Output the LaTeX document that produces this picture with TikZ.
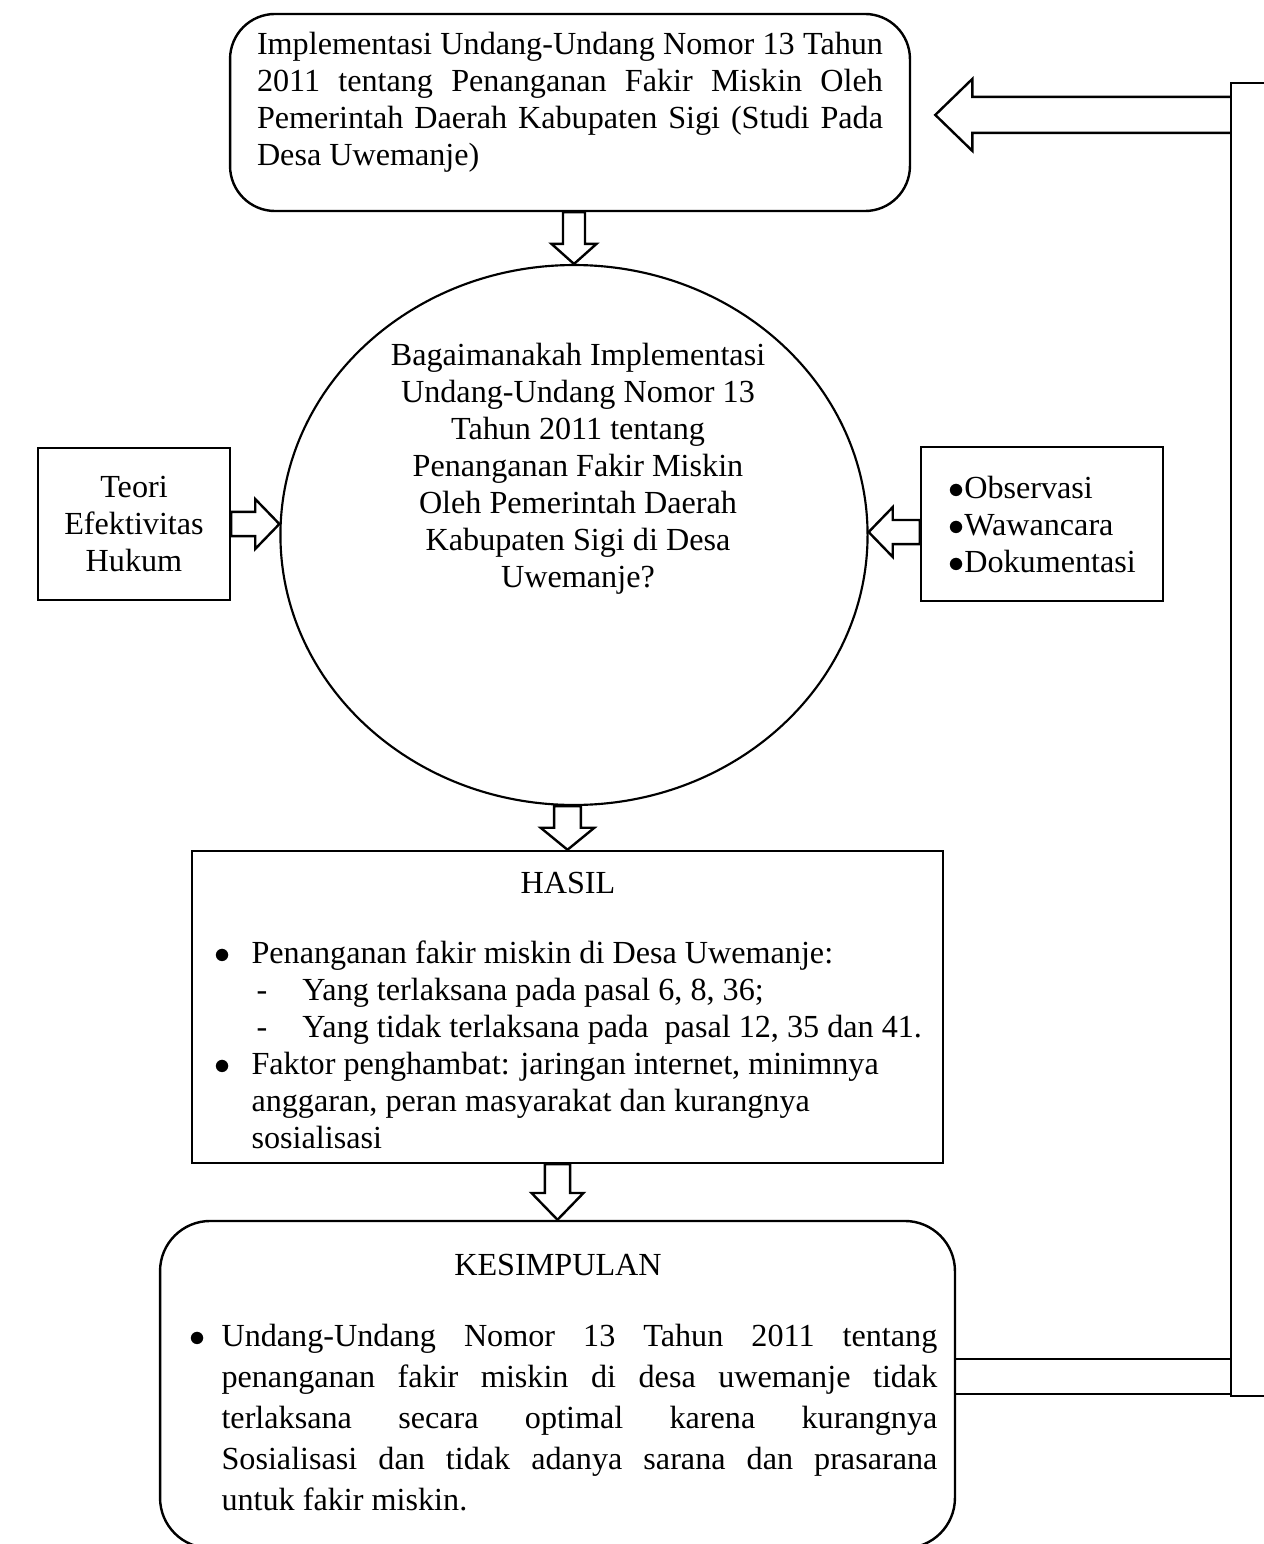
\documentclass[tikz,border=0pt]{standalone}
\usepackage{fontspec}
\setmainfont{Liberation Serif}
\usetikzlibrary{shapes.geometric,calc}

\begin{document}
\begin{tikzpicture}[x=0.373pt,y=-0.373pt,
  kotak/.style={draw,line width=0.9pt,rectangle,inner sep=0pt},
  bulat/.style={kotak,rounded corners=16.8pt},
  teks/.style={inner sep=0pt,font=\fontsize{12}{13.8}\selectfont},
  blok/.style={draw,line width=0.9pt,line join=miter}]
 \useasboundingbox (0,0) rectangle (1264,1544);
 % kotak-kotak
 \node[bulat,minimum width=253.6pt,minimum height=73.5pt] (atas) at (570,112.5) {};
 \node[teks,text width=233.5pt,align=justify,anchor=north] (atasisi) at (570,32) {\noindent Implementasi Undang-Undang Nomor 13 Tahun\linebreak 2011 tentang Penanganan Fakir Miskin Oleh\linebreak Pemerintah Daerah Kabupaten Sigi (Studi Pada\linebreak Desa Uwemanje)};
 \node[kotak,ellipse,line width=0.8pt,minimum width=219pt,minimum height=201.4pt] (rumusan) at (574,535) {};
 \node[teks,align=center] (rumusanisi) at (578,469) {Bagaimanakah Implementasi\\ Undang-Undang Nomor 13\\ Tahun 2011 tentang\\ Penanganan Fakir Miskin\\ Oleh Pemerintah Daerah\\ Kabupaten Sigi di Desa\\ Uwemanje?};
 \node[kotak,teks,align=center,minimum width=71.6pt,minimum height=56.7pt] (teori) at (134,524) {Teori\\ Efektivitas\\ Hukum};
 \node[kotak,teks,align=left,minimum width=90.3pt,minimum height=57.4pt] (metode) at (1042,524) {$\bullet$Observasi\\ $\bullet$Wawancara\\ $\bullet$Dokumentasi};
 \node[kotak,minimum width=280.1pt,minimum height=116.4pt] (hasil) at (567.5,1007) {};
 \node[teks] (hasiljudul) at (568,883) {HASIL};
 \node[teks,align=left,anchor=north west] (hasilisi) at (251,940) {\leavevmode\llap{$\bullet$\hspace{8pt}}Penanganan fakir miskin di Desa Uwemanje:\\
  \leavevmode\makebox[19pt][l]{\hspace{1.9pt}-}Yang terlaksana pada pasal 6, 8, 36;\\
  \leavevmode\makebox[19pt][l]{\hspace{1.9pt}-}Yang tidak terlaksana pada~ pasal 12, 35 dan 41.\\
  \leavevmode\llap{$\bullet$\hspace{8pt}}Faktor penghambat: jaringan internet, minimnya\\
  anggaran, peran masyarakat dan kurangnya\\
  sosialisasi};
 \node[kotak,rounded corners=18.7pt,minimum width=296.5pt,minimum height=122pt] (kesimpulan) at (557.5,1384.5) {};
 \node[teks] (kesimpulanjudul) at (558,1265) {KESIMPULAN};
 \node[teks,text width=267pt,align=justify,anchor=north west,font=\fontsize{12}{15.3}\selectfont] (kesimpulanisi) at (221,1324) {\noindent\llap{$\bullet$\hspace{6pt}}Undang-Undang Nomor 13 Tahun 2011 tentang\linebreak penanganan fakir miskin di desa uwemanje tidak\linebreak terlaksana secara optimal karena kurangnya\linebreak Sosialisasi dan tidak adanya sarana dan prasarana\linebreak untuk fakir miskin.};
 \node[kotak,minimum width=25.7pt,minimum height=489.7pt] (balik) at (1265.5,739.5) {};
 % panah-panah
 \draw[blok] let \p1=(atas.south), \p2=(rumusan.north) in
  ({\x2-4.1pt},\y1) -- ({\x2-4.1pt},{\y2+7.5pt}) -- ({\x2-8.4pt},{\y2+7.5pt}) -- (\x2,\y2)
  -- ({\x2+8.4pt},{\y2+7.5pt}) -- ({\x2+4.1pt},{\y2+7.5pt}) -- ({\x2+4.1pt},\y1) -- cycle;
 \draw[blok] let \p1=(teori.east), \p2=(teori.east -| rumusan.west) in
  (\x1,{\y1+4.5pt}) -- ({\x2-9pt},{\y1+4.5pt}) -- ({\x2-9pt},{\y1+9.3pt}) -- (\x2,\y1)
  -- ({\x2-9pt},{\y1-9.3pt}) -- ({\x2-9pt},{\y1-4.5pt}) -- (\x1,{\y1-4.5pt}) -- cycle;
 \draw[blok] let \p1=(metode.west), \p2=(metode.west -| rumusan.east) in
  (\x1,{\y1+1.5pt}) -- ({\x2+9pt},{\y1+1.5pt}) -- ({\x2+9pt},{\y1+6.3pt}) -- (\x2,{\y1-3pt})
  -- ({\x2+9pt},{\y1-12.3pt}) -- ({\x2+9pt},{\y1-7.5pt}) -- (\x1,{\y1-7.5pt}) -- cycle;
 \draw[blok] let \p1=(rumusan.south), \p2=(hasil.north) in
  ({\x2-5pt},\y1) -- ({\x2-5pt},{\y2+8.2pt}) -- ({\x2-10pt},{\y2+8.2pt}) -- (\x2,\y2)
  -- ({\x2+10pt},{\y2+8.2pt}) -- ({\x2+5pt},{\y2+8.2pt}) -- ({\x2+5pt},\y1) -- cycle;
 \draw[blok] let \p1=(hasil.south), \p2=(kesimpulan.north) in
  ({\x2-4.7pt},\y1) -- ({\x2-4.7pt},{\y2+10pt}) -- ({\x2-9.7pt},{\y2+10pt}) -- (\x2,\y2)
  -- ({\x2+9.7pt},{\y2+10pt}) -- ({\x2+4.7pt},{\y2+10pt}) -- ({\x2+4.7pt},\y1) -- cycle;
 % balik ke atas
 \draw[blok] let \p1=(kesimpulan.east), \p2=(balik.west) in
  (\x1,{\y1+9.5pt}) -- (\x2,{\y1+9.5pt}) (\x1,{\y1-3.5pt}) -- (\x2,{\y1-3.5pt});
 \draw[blok] let \p1=(atas.east), \p2=(balik.west) in
  (\x2,{\y1+5.8pt}) -- ({\x1+22.8pt},{\y1+5.8pt}) -- ({\x1+22.8pt},{\y1+12.5pt}) -- ({\x1+9pt},{\y1-0.9pt})
  -- ({\x1+22.8pt},{\y1-14.3pt}) -- ({\x1+22.8pt},{\y1-7.6pt}) -- (\x2,{\y1-7.6pt});
\end{tikzpicture}
\end{document}
